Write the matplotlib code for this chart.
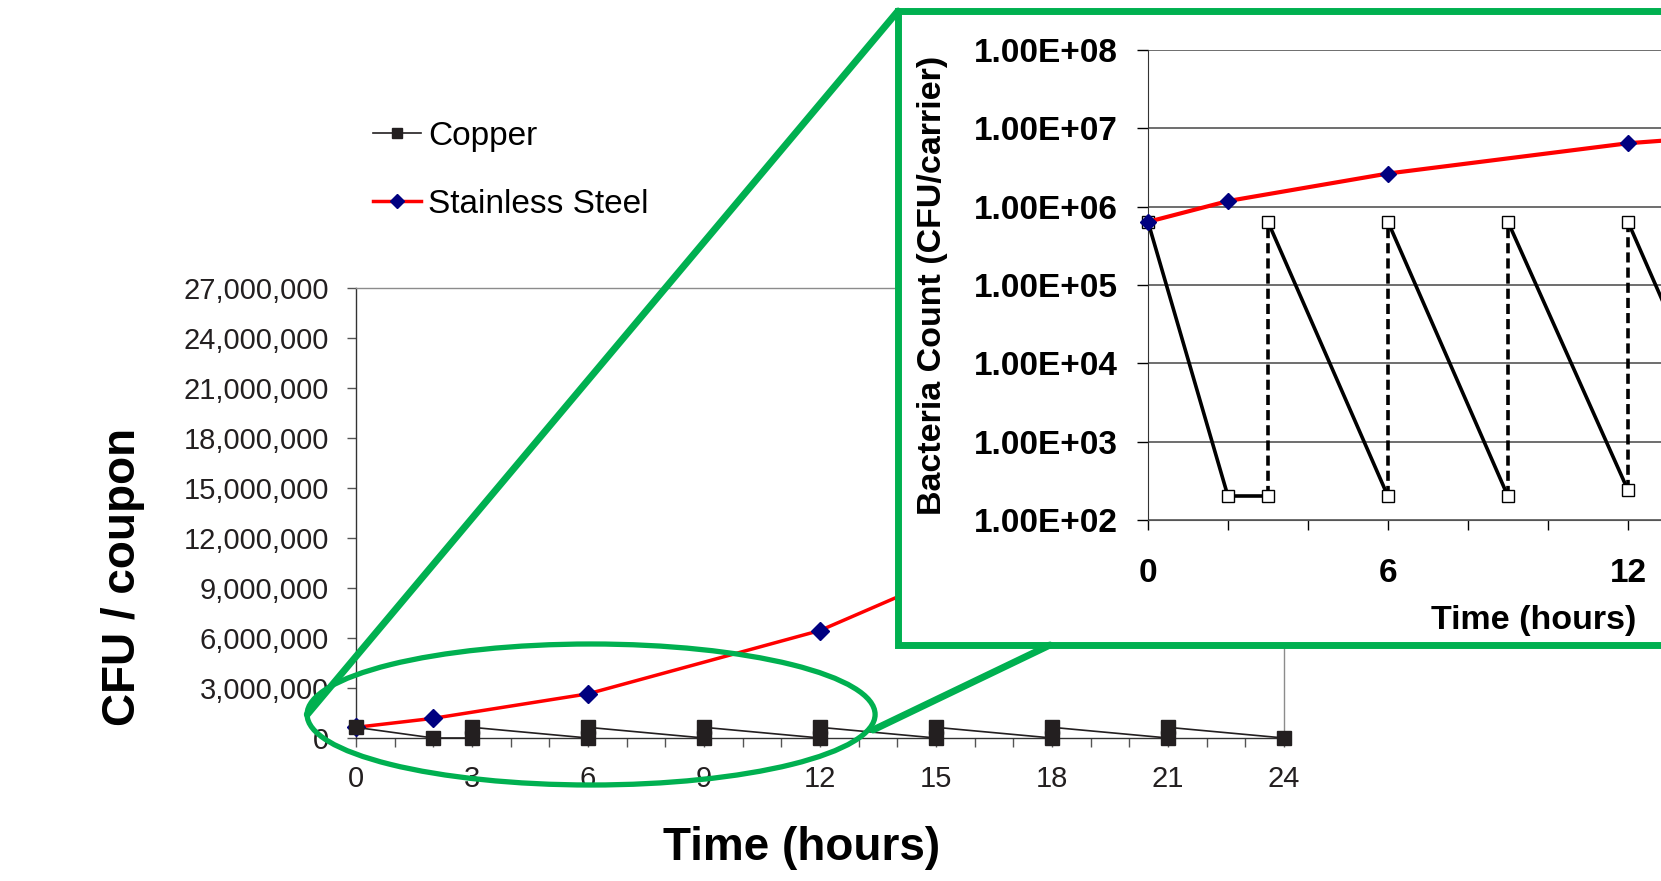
import matplotlib.pyplot as plt
from matplotlib.patches import Ellipse, Rectangle, ConnectionPatch
from matplotlib.ticker import FuncFormatter, MultipleLocator, LogLocator, NullLocator

plt.rcParams['font.family'] = ['Liberation Sans', 'DejaVu Sans']

# data
copper_hours = [0, 2, 3, 3, 6, 6, 9, 9, 12, 12, 15, 15, 18, 18, 21, 21, 24]
copper_cfu = [6.4e5, 200, 200, 6.4e5, 200, 6.4e5, 200, 6.4e5, 240, 6.4e5,
              200, 6.4e5, 200, 6.4e5, 200, 6.4e5, 200]
steel_hours = [0, 2, 6, 12, 24]
steel_cfu = [6.4e5, 1.18e6, 2.65e6, 6.45e6, 1.85e7]

green = '#00B050'
W, H = 1661, 881
fig = plt.figure(figsize=(W / 100, H / 100), dpi=100)

# ---- main linear chart ----
ax = fig.add_axes([356 / W, 1 - 738 / H, 928 / W, 450 / H])
ax.plot(copper_hours, copper_cfu, color='#231f20', lw=1.2, marker='s', ms=9.5,
        label='Copper', zorder=4, clip_on=False)
ax.plot(steel_hours, steel_cfu, color='red', lw=2.5, marker='D', ms=9.5,
        mfc='#000080', mec='#000080', label='Stainless Steel', zorder=3, clip_on=False)

ax.set_xlim(0, 24)
ax.set_ylim(0, 27e6)
ax.xaxis.set_major_locator(MultipleLocator(3))
ax.xaxis.set_minor_locator(MultipleLocator(1))
ax.yaxis.set_major_locator(MultipleLocator(3e6))
ax.yaxis.set_major_formatter(FuncFormatter(lambda v, p: f'{v:,.0f}'))
ax.tick_params(which='both', direction='out', length=6.5, width=1, color='#555555',
               labelsize=21, labelcolor='#231f20', pad=13)
for s in ax.spines.values():
    s.set_color('#8c8c8c')
    s.set_linewidth(1)
ax.spines['left'].set_color('#333333')
ax.spines['bottom'].set_color('#333333')

ax.set_xlabel('Time (hours)', fontsize=33, fontweight='bold', va='center')
ax.xaxis.set_label_coords(0.4806, -0.245)
ax.set_ylabel('CFU / coupon', fontsize=33, fontweight='bold', va='center')
ax.yaxis.set_label_coords(-0.251, 0.3578)

ax.legend(loc='upper left', bbox_to_anchor=(373 / W, 1 - 121 / H),
          bbox_transform=fig.transFigure, frameon=False, fontsize=24,
          markerscale=0.75, handlelength=1.45, handletextpad=0.2,
          labelspacing=1.1, borderpad=0, borderaxespad=0)

# zoom ellipse around the early hours
ax.add_patch(Ellipse((6.08, 1.41e6), 14.69, 8.46e6, fill=False, edgecolor=green,
                     lw=3.8, zorder=6, clip_on=False))

# ---- green frame for the inset ----
fig.add_artist(Rectangle((898 / W, 1 - 645 / H), 0.5, (645 - 11) / H,
                         transform=fig.transFigure, facecolor='white',
                         edgecolor=green, lw=5, zorder=1))
for xa, xb in [((-1.26, 1.41e6), (898 / W, 1 - 11 / H)),
               ((13.37, 0.48e6), (1050 / W, 1 - 645 / H))]:
    fig.add_artist(ConnectionPatch(xyA=xa, coordsA=ax.transData, xyB=xb,
                                   coordsB=fig.transFigure, color=green, lw=5,
                                   zorder=1.5))

# ---- log-scale inset (cropped at the right edge of the figure) ----
axi = fig.add_axes([1148 / W, 1 - 520 / H, (W - 1148) / W, 470 / H], zorder=2)
for a in range(len(copper_hours) - 1):
    b = a + 1
    jump = copper_hours[a] == copper_hours[b]
    axi.plot(copper_hours[a:b + 1], copper_cfu[a:b + 1], color='black', lw=2.6,
             ls=(0, (2.8, 1.4)) if jump else '-', zorder=2)
axi.plot(copper_hours, copper_cfu, ls='none', marker='s', ms=8, mfc='white',
         mec='black', mew=1, zorder=3, clip_on=False)
axi.plot(steel_hours, steel_cfu, color='red', lw=3, marker='D', ms=8,
         mfc='#000080', mec='#000080', zorder=4, clip_on=False)

axi.set_yscale('log')
axi.set_ylim(1e2, 1e8)
axi.set_xlim(0, (W - 1148) / 40)
axi.yaxis.set_major_locator(LogLocator(base=10, numticks=10))
axi.yaxis.set_minor_locator(NullLocator())
axi.yaxis.set_major_formatter(FuncFormatter(lambda v, p: f'{v:.2E}'))
axi.xaxis.set_major_locator(MultipleLocator(6))
axi.xaxis.set_minor_locator(MultipleLocator(2))
axi.grid(axis='y', color='#555555', lw=1.2)
axi.set_axisbelow(True)
axi.tick_params(axis='y', which='both', direction='out', length=8, width=1,
                labelsize=24, pad=14)
axi.tick_params(axis='x', which='both', direction='out', length=7, width=1,
                labelsize=24, pad=20)
plt.setp(axi.get_xticklabels() + axi.get_yticklabels(), fontweight='bold')
axi.spines['top'].set_visible(False)
axi.spines['right'].set_visible(False)
axi.spines['left'].set_color('#333333')
axi.spines['bottom'].set_color('#555555')

axi.set_xlabel('Time (hours)', fontsize=24.5, fontweight='bold', va='center')
axi.xaxis.set_label_coords((1534 - 1148) / (W - 1148), -0.213)
axi.set_ylabel('Bacteria Count (CFU/carrier)', fontsize=24.5, fontweight='bold',
               va='center')
axi.yaxis.set_label_coords(-216 / (W - 1148), 0.5)

fig.savefig('out.png', dpi=100)
plt.close()
